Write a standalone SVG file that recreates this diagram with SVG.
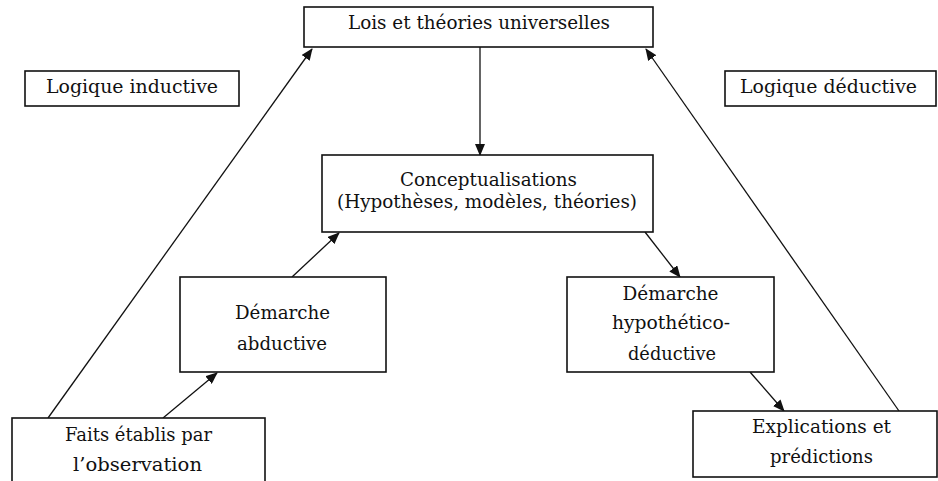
<svg xmlns="http://www.w3.org/2000/svg" width="938" height="481" viewBox="0 0 938 481" font-family="'DejaVu Serif', 'Liberation Serif', 'Noto Serif', serif">
<defs>
<style>
.box{fill:#fff;stroke:#111;stroke-width:1.6}
.t{font-size:19px;fill:#111;text-anchor:middle}
.s{font-size:18px}
.c{stroke:#111;stroke-width:1.3;fill:none;marker-end:url(#ah)}
</style>
<marker id="ah" markerUnits="userSpaceOnUse" markerWidth="12" markerHeight="10" refX="11" refY="5" orient="auto">
<path d="M0,0 L12,5 L0,10 Z" fill="#111"/>
</marker>
</defs>
<rect width="938" height="481" fill="#fff"/>
<g id="connectors">
<line class="c" x1="48" y1="418" x2="312" y2="49"/>
<line class="c" x1="899" y1="411" x2="646" y2="49"/>
<line class="c" x1="480" y1="47" x2="480" y2="155"/>
<line class="c" x1="163" y1="418" x2="217" y2="373"/>
<line class="c" x1="292" y1="277" x2="339" y2="233"/>
<line class="c" x1="645" y1="232" x2="680" y2="277"/>
<line class="c" x1="750" y1="372" x2="784" y2="411"/>
</g>
<g id="lois">
<rect class="box" x="304" y="7" width="349" height="40"/>
<text class="t" x="479" y="29" textLength="262" lengthAdjust="spacingAndGlyphs">Lois et théories universelles</text>
</g>
<g id="inductive">
<rect class="box" x="25" y="71" width="214" height="35"/>
<text class="t" x="132" y="93" textLength="172" lengthAdjust="spacingAndGlyphs">Logique inductive</text>
</g>
<g id="deductive">
<rect class="box" x="725" y="71" width="211" height="35"/>
<text class="t" x="828.5" y="93" textLength="177" lengthAdjust="spacingAndGlyphs">Logique déductive</text>
</g>
<g id="concept">
<rect class="box" x="322" y="155" width="331" height="77"/>
<text class="t s" x="488.5" y="186" textLength="177" lengthAdjust="spacingAndGlyphs">Conceptualisations</text>
<text class="t s" x="487" y="207.5" textLength="300" lengthAdjust="spacingAndGlyphs">(Hypothèses, modèles, théories)</text>
</g>
<g id="abductive">
<rect class="box" x="180" y="277" width="206" height="95"/>
<text class="t" x="282.5" y="319" textLength="95" lengthAdjust="spacingAndGlyphs">Démarche</text>
<text class="t" x="282" y="350" textLength="90" lengthAdjust="spacingAndGlyphs">abductive</text>
</g>
<g id="hypothetico">
<rect class="box" x="567" y="277" width="207" height="95"/>
<text class="t" x="670.5" y="300" textLength="96" lengthAdjust="spacingAndGlyphs">Démarche</text>
<text class="t" x="671" y="329" textLength="118" lengthAdjust="spacingAndGlyphs">hypothético-</text>
<text class="t" x="672" y="360" textLength="88" lengthAdjust="spacingAndGlyphs">déductive</text>
</g>
<g id="faits">
<rect class="box" x="12" y="418" width="253" height="70"/>
<text class="t" x="138.5" y="441" textLength="147" lengthAdjust="spacingAndGlyphs">Faits établis par</text>
<text class="t" x="137.5" y="471" textLength="129" lengthAdjust="spacingAndGlyphs">l’observation</text>
</g>
<g id="explications">
<rect class="box" x="693" y="411" width="244" height="66"/>
<text class="t" x="821.5" y="433" textLength="139" lengthAdjust="spacingAndGlyphs">Explications et</text>
<text class="t" x="821.5" y="463" textLength="103" lengthAdjust="spacingAndGlyphs">prédictions</text>
</g>
</svg>
